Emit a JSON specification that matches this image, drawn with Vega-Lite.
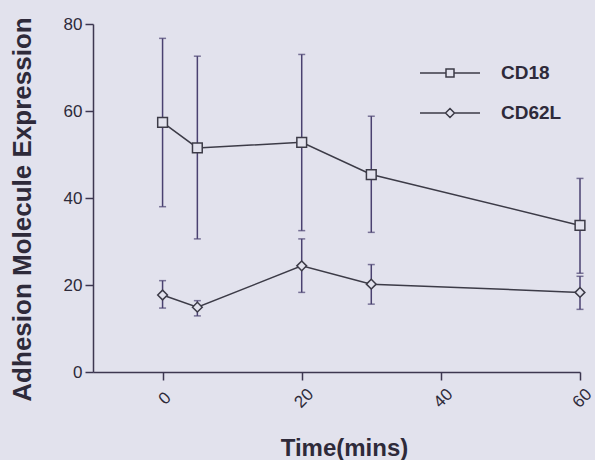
{
  "$schema": "https://vega.github.io/schema/vega-lite/v6.json",
  "width": 487,
  "height": 348,
  "autosize": {"type": "none"},
  "padding": {"left": 93, "top": 24, "right": 15, "bottom": 88},
  "background": "#e2e2ed",
  "config": {
    "view": {"stroke": null},
    "font": "Liberation Sans",
    "axis": {
      "domainColor": "#3d3750",
      "tickColor": "#3d3750",
      "labelColor": "#2e2a3a",
      "titleColor": "#2e2a3a",
      "grid": false,
      "domainWidth": 1.5,
      "tickWidth": 1.5,
      "tickSize": 8
    }
  },
  "data": {
    "values": [
      {"time": 0, "series": "CD18", "mean": 57.4, "lo": 38.0, "hi": 76.7},
      {"time": 5, "series": "CD18", "mean": 51.5, "lo": 30.6, "hi": 72.6},
      {"time": 20, "series": "CD18", "mean": 52.8, "lo": 32.5, "hi": 73.0},
      {"time": 30, "series": "CD18", "mean": 45.4, "lo": 32.1, "hi": 58.8},
      {"time": 60, "series": "CD18", "mean": 33.7, "lo": 22.7, "hi": 44.5},
      {"time": 0, "series": "CD62L", "mean": 17.7, "lo": 14.7, "hi": 21.0},
      {"time": 5, "series": "CD62L", "mean": 14.9, "lo": 12.9, "hi": 16.4},
      {"time": 20, "series": "CD62L", "mean": 24.4, "lo": 18.3, "hi": 30.6},
      {"time": 30, "series": "CD62L", "mean": 20.2, "lo": 15.6, "hi": 24.7},
      {"time": 60, "series": "CD62L", "mean": 18.3, "lo": 14.4, "hi": 22.0}
    ]
  },
  "encoding": {
    "x": {
      "field": "time",
      "type": "quantitative",
      "scale": {"domain": [-10, 60], "nice": false, "zero": false},
      "axis": {
        "values": [0, 20, 40, 60],
        "title": "Time(mins)",
        "titleFontSize": 24,
        "titleFontWeight": "bold",
        "titlePadding": 26,
        "titleX": 251,
        "labelAngle": -45,
        "labelAlign": "center",
        "labelBaseline": "middle",
        "labelPadding": 18,
        "labelOffset": 2,
        "labelFontSize": 17,
        "labelBound": false,
        "labelOverlap": false
      }
    }
  },
  "resolve": {"scale": {"shape": "independent"}, "legend": {"shape": "independent"}},
  "layer": [
    {
      "mark": {"type": "rule", "color": "#4a4170", "strokeWidth": 1.5},
      "encoding": {
        "y": {"field": "lo", "type": "quantitative"},
        "y2": {"field": "hi"}
      }
    },
    {
      "mark": {"type": "tick", "orient": "horizontal", "color": "#4a4170", "size": 7, "thickness": 1.5},
      "encoding": {"y": {"field": "lo", "type": "quantitative"}}
    },
    {
      "mark": {"type": "tick", "orient": "horizontal", "color": "#4a4170", "size": 7, "thickness": 1.5},
      "encoding": {"y": {"field": "hi", "type": "quantitative"}}
    },
    {
      "mark": {"type": "line", "color": "#3c3b47", "strokeWidth": 1.5},
      "encoding": {
        "y": {"field": "mean", "type": "quantitative"},
        "detail": {"field": "series"}
      }
    },
    {
      "mark": {"type": "point", "filled": true, "fill": "#e2e2ed", "stroke": "#3c3b47", "strokeWidth": 1.5, "opacity": 1, "size": 95},
      "encoding": {
        "y": {
          "field": "mean",
          "type": "quantitative",
          "scale": {"domain": [0, 80], "nice": false},
          "axis": {
            "values": [0, 20, 40, 60, 80],
            "title": "Adhesion Molecule Expression",
            "titleFontSize": 26,
            "titleFontWeight": "bold",
            "titleAngle": -90,
            "titleBaseline": "middle",
            "titleAlign": "center",
            "titleX": -71,
            "titleY": 185,
            "labelFontSize": 17,
            "labelPadding": 3
          }
        },
        "shape": {
          "field": "series",
          "type": "nominal",
          "scale": {"domain": ["CD18", "CD62L"], "range": ["square", "diamond"]},
          "legend": null
        }
      }
    },
    {
      "mark": {"type": "point", "filled": true, "fill": "#e2e2ed", "stroke": "#3c3b47", "strokeWidth": 1.5, "opacity": 0, "size": 400},
      "encoding": {
        "y": {"field": "mean", "type": "quantitative"},
        "shape": {
          "field": "series",
          "type": "nominal",
          "scale": {"domain": ["CD18", "CD62L"], "range": ["M-3,0H-0.4M0.4,0H3M-0.4,-0.4H0.4V0.4H-0.4Z", "M-3,0H-0.45M0.45,0H3M0,-0.45L0.45,0L0,0.45L-0.45,0Z"]},
          "legend": {
            "title": null,
            "orient": "none",
            "legendX": 346,
            "legendY": 38,
            "padding": 0,
            "symbolSize": 400,
            "labelFontSize": 19,
            "labelFontWeight": "bold",
            "labelColor": "#2e2a3a",
            "labelOffset": 40,
            "rowPadding": 19,
            "encode": {
              "symbols": {
                "update": {
                  "stroke": {"value": "#3c3b47"},
                  "fill": {"value": "#e2e2ed"},
                  "strokeWidth": {"value": 1.5},
                  "opacity": {"value": 1},
                  "fillOpacity": {"value": 1},
                  "strokeOpacity": {"value": 1},
                  "size": {"value": 400}
                }
              }
            }
          }
        }
      }
    }
  ]
}
